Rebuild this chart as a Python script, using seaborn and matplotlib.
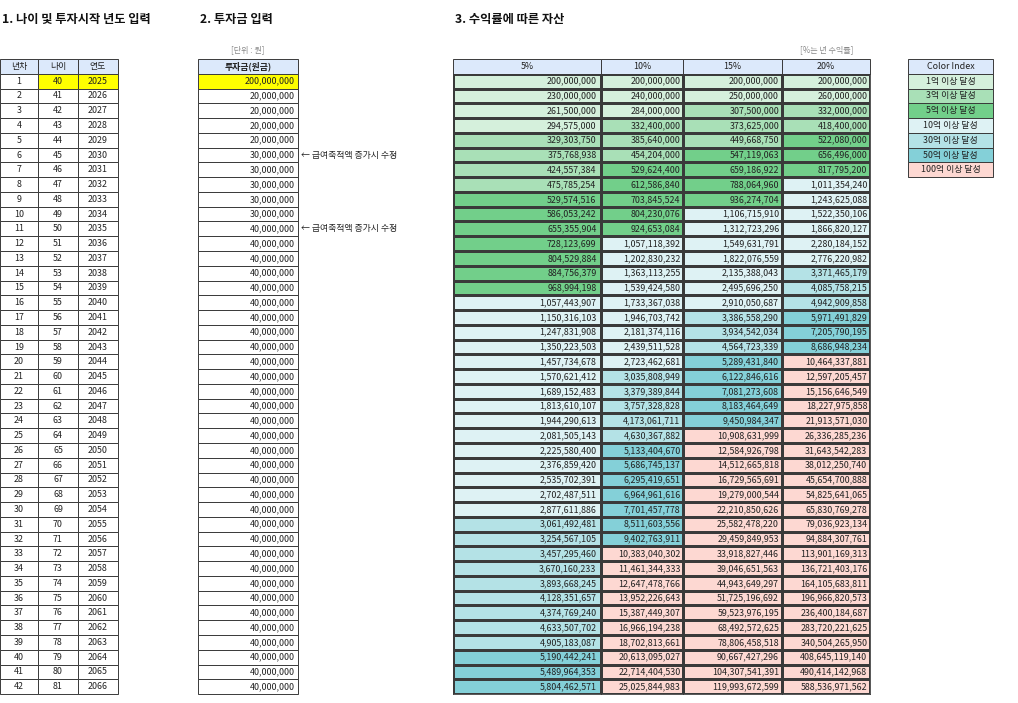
import numpy as np
import pandas as pd
import matplotlib
matplotlib.use('Agg')
import matplotlib.pyplot as plt
from matplotlib.colors import ListedColormap, BoundaryNorm
from matplotlib.patches import Rectangle
import seaborn as sns

sns.set_theme(style='white')
plt.rcParams['font.family'] = ['Noto Sans CJK KR', 'DejaVu Sans']

# ----- data -----
years_no = [1, 2, 3, 4, 5, 6, 7, 8, 9, 10, 11, 12, 13, 14, 15, 16, 17, 18, 19, 20, 21,
            22, 23, 24, 25, 26, 27, 28, 29, 30, 31, 32, 33, 34, 35, 36, 37, 38, 39, 40, 41, 42]
ages = [40, 41, 42, 43, 44, 45, 46, 47, 48, 49, 50, 51, 52, 53, 54, 55, 56, 57, 58, 59, 60,
        61, 62, 63, 64, 65, 66, 67, 68, 69, 70, 71, 72, 73, 74, 75, 76, 77, 78, 79, 80, 81]
cal_years = [2025, 2026, 2027, 2028, 2029, 2030, 2031, 2032, 2033, 2034, 2035, 2036, 2037, 2038,
             2039, 2040, 2041, 2042, 2043, 2044, 2045, 2046, 2047, 2048, 2049, 2050, 2051, 2052,
             2053, 2054, 2055, 2056, 2057, 2058, 2059, 2060, 2061, 2062, 2063, 2064, 2065, 2066]
invest = [200000000] + [20000000] * 4 + [30000000] * 5 + [40000000] * 32

rates = ['5%', '10%', '15%', '20%']
asset_5 = [200000000, 230000000, 261500000, 294575000, 329303750, 375768938, 424557384, 475785254,
           529574516, 586053242, 655355904, 728123699, 804529884, 884756379, 968994198, 1057443907,
           1150316103, 1247831908, 1350223503, 1457734678, 1570621412, 1689152483, 1813610107,
           1944290613, 2081505143, 2225580400, 2376859420, 2535702391, 2702487511, 2877611886,
           3061492481, 3254567105, 3457295460, 3670160233, 3893668245, 4128351657, 4374769240,
           4633507702, 4905183087, 5190442241, 5489964353, 5804462571]
asset_10 = [200000000, 240000000, 284000000, 332400000, 385640000, 454204000, 529624400, 612586840,
            703845524, 804230076, 924653084, 1057118392, 1202830232, 1363113255, 1539424580,
            1733367038, 1946703742, 2181374116, 2439511528, 2723462681, 3035808949, 3379389844,
            3757328828, 4173061711, 4630367882, 5133404670, 5686745137, 6295419651, 6964961616,
            7701457778, 8511603556, 9402763911, 10383040302, 11461344333, 12647478766,
            13952226643, 15387449307, 16966194238, 18702813661, 20613095027, 22714404530,
            25025844983]
asset_15 = [200000000, 250000000, 307500000, 373625000, 449668750, 547119063, 659186922, 788064960,
            936274704, 1106715910, 1312723296, 1549631791, 1822076559, 2135388043, 2495696250,
            2910050687, 3386558290, 3934542034, 4564723339, 5289431840, 6122846616, 7081273608,
            8183464649, 9450984347, 10908631999, 12584926798, 14512665818, 16729565691,
            19279000544, 22210850626, 25582478220, 29459849953, 33918827446, 39046651563,
            44943649297, 51725196692, 59523976195, 68492572625, 78806458518, 90667427296,
            104307541391, 119993672599]
asset_20 = [200000000, 260000000, 332000000, 418400000, 522080000, 656496000, 817795200,
            1011354240, 1243625088, 1522350106, 1866820127, 2280184152, 2776220982, 3371465179,
            4085758215, 4942909858, 5971491829, 7205790195, 8686948234, 10464337881, 12597205457,
            15156646549, 18227975858, 21913571030, 26336285236, 31643542283, 38012250740,
            45654700888, 54825641065, 65830769278, 79036923134, 94884307761, 113901169313,
            136721403176, 164105683811, 196966820573, 236400184687, 283720221625, 340504265950,
            408645119140, 490414142968, 588536971562]

index_labels = ['1억 이상 달성', '3억 이상 달성', '5억 이상 달성', '10억 이상 달성',
                '30억 이상 달성', '50억 이상 달성', '100억 이상 달성']
thresholds = [0, 3e8, 5e8, 1e9, 3e9, 5e9, 1e10, 1e14]
index_colors = ['#d5f0dc', '#a9e0b7', '#72cf8a', '#def2f4', '#b4e2e6', '#84d0d8', '#fdd8d2']

assets = pd.DataFrame({'5%': asset_5, '10%': asset_10, '15%': asset_15, '20%': asset_20})

# ----- layout (pixels) -----
W, H = 1018, 703
top, rh = 59, 14.77
fig = plt.figure(figsize=(W / 100, H / 100), dpi=100)
bg = fig.add_axes([0, 0, 1, 1])
bg.set_xlim(0, W)
bg.set_ylim(H, 0)
bg.axis('off')

HEAD = '#dce9fb'
LINE = '#3a3a3a'
FS = 6.4


def cell(x0, x1, r, text, fc='white', ha='right', bold=False):
    y0 = top + r * rh
    bg.add_patch(Rectangle((x0, y0), x1 - x0, rh, fc=fc, ec=LINE, lw=0.7))
    tx = {'right': x1 - 3, 'center': (x0 + x1) / 2, 'left': x0 + 3}[ha]
    bg.text(tx, y0 + rh / 2, text, ha=ha, va='center', fontsize=FS,
            fontweight='bold' if bold else 'normal', color='#222')


# titles
for x, t in [(2, '1. 나이 및 투자시작 년도 입력'), (200, '2. 투자금 입력'), (455, '3. 수익률에 따른 자산')]:
    bg.text(x, 19, t, fontsize=8.8, fontweight='bold', va='center', color='#111')
bg.text(248, 50, '[단위 : 원]', fontsize=5.8, color='#888', ha='center', va='center')
bg.text(827, 50, '[%는 년 수익률]', fontsize=5.8, color='#888', ha='center', va='center')

# table 1
cols1 = [(0, 38), (38, 78), (78, 118)]
for (x0, x1), h in zip(cols1, ['년차', '나이', '연도']):
    cell(x0, x1, 0, h, fc=HEAD, ha='center')
for i in range(42):
    yel = '#ffff00' if i == 0 else 'white'
    cell(0, 38, i + 1, str(years_no[i]), ha='center')
    cell(38, 78, i + 1, str(ages[i]), fc=yel, ha='center')
    cell(78, 118, i + 1, str(cal_years[i]), fc=yel, ha='center')

# table 2
cell(198, 298, 0, '투자금(원금)', fc=HEAD, ha='center', bold=True)
for i, v in enumerate(invest):
    cell(198, 298, i + 1, f'{v:,}', fc='#ffff00' if i == 0 else 'white')
for r in (6, 11):
    bg.text(301, top + r * rh + rh / 2, '← 급여축적액 증가시 수정', fontsize=FS,
            va='center', color='#222')

# table 3: one seaborn heatmap per column
cmap = ListedColormap(index_colors)
norm = BoundaryNorm(thresholds, cmap.N)
col_x = [(453, 601), (601, 683), (683, 782), (782, 870)]
for (x0, x1), rate in zip(col_x, rates):
    cell(x0, x1, 0, rate, fc=HEAD, ha='center')
    y0 = top + rh
    ax = fig.add_axes([x0 / W, 1 - (y0 + 42 * rh) / H, (x1 - x0) / W, 42 * rh / H])
    sns.heatmap(assets[[rate]], ax=ax, cmap=cmap, norm=norm, cbar=False,
                linewidths=0.8, linecolor=LINE, xticklabels=False, yticklabels=False)
    for i, v in enumerate(assets[rate]):
        ax.text(0.97, i + 0.5, f'{v:,}', ha='right', va='center', fontsize=FS, color='#222')
    for s in ax.spines.values():
        s.set_visible(True)
        s.set_color(LINE)
        s.set_linewidth(0.6)

# color index
cell(908, 993, 0, 'Color Index', fc=HEAD, ha='center')
for i, (lab, c) in enumerate(zip(index_labels, index_colors)):
    cell(908, 993, i + 1, lab, fc=c, ha='center')

fig.savefig('out.png', dpi=100)
